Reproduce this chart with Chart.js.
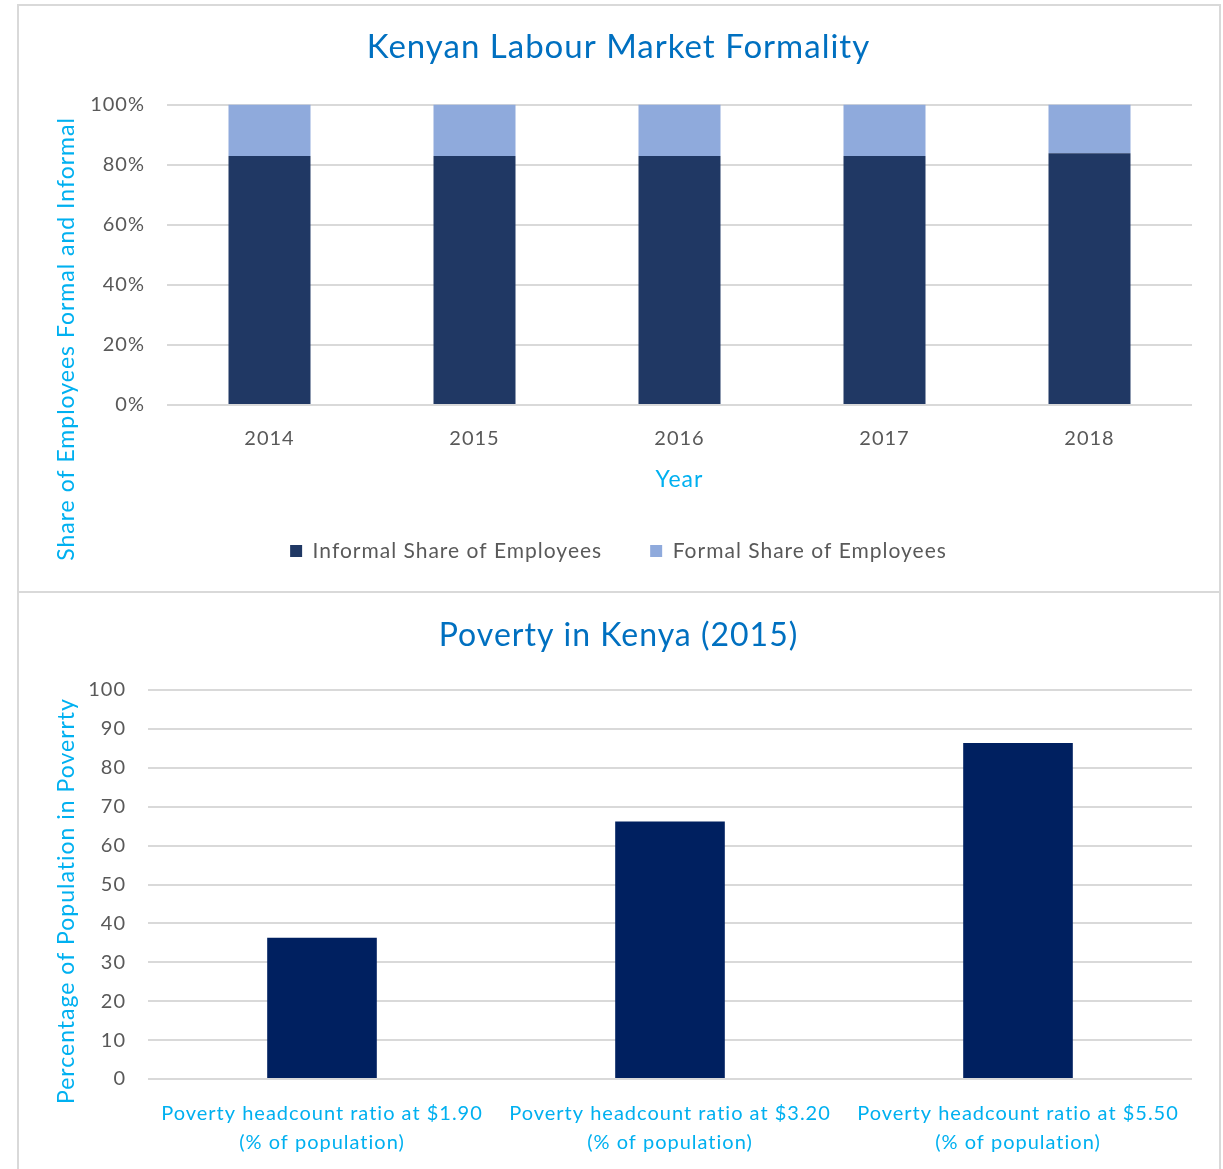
<!DOCTYPE html>
<html>
<head>
<meta charset="utf-8">
<script src="https://cdn.jsdelivr.net/npm/chart.js@4/dist/chart.umd.min.js"></script>
<style>
  html, body { margin: 0; padding: 0; background: #fff; width: 1223px; height: 1169px; overflow: hidden; }
  .panel { position: absolute; left: 17px; width: 1204px; box-sizing: border-box; border: 2px solid #d9d9d9; background: #fff; }
  #panel1 { top: 4px; height: 589px; }
  #panel2 { top: 591px; height: 600px; }
  canvas { position: absolute; left: 17px; }
  #formality { top: 0px; }
  #poverty { top: 594px; }
</style>
</head>
<body>
<div class="panel" id="panel1"></div>
<div class="panel" id="panel2"></div>
<canvas id="formality" width="1203" height="590"></canvas>
<canvas id="poverty" width="1203" height="575"></canvas>
<script>
// Labour market formality (share of employees, %)
const years = ['2014', '2015', '2016', '2017', '2018'];
const informalShare = [82.9, 82.9, 82.9, 82.9, 83.8];
const formalShare = [17.1, 17.1, 17.1, 17.1, 16.2];
const formalityTicks = [0, 20, 40, 60, 80, 100];

// Poverty headcount ratios, Kenya 2015 (% of population)
const povertyLines = [
  ['Poverty headcount ratio at $1.90', '(% of population)'],
  ['Poverty headcount ratio at $3.20', '(% of population)'],
  ['Poverty headcount ratio at $5.50', '(% of population)']
];
const povertyRates = [36.3, 66.2, 86.4];
const povertyTicks = [0, 10, 20, 30, 40, 50, 60, 70, 80, 90, 100];

const FONT = 'Lato, "Open Sans", sans-serif';
const GRID = '#d9d9d9';
const TICK = '#595959';
const TITLE_BLUE = '#0070c0';
const LIGHT_BLUE = '#00b0f0';

Chart.defaults.font.family = FONT;
Chart.defaults.animation = false;

// Slightly open letter spacing for all chart text
const spacing = {
  id: 'spacing',
  beforeUpdate(chart) { chart.ctx.letterSpacing = '1px'; },
  beforeDraw(chart) { chart.ctx.letterSpacing = '1px'; }
};

// Vertical axis title drawn at a fixed spot beside the value labels
const sideTitle = {
  id: 'sideTitle',
  afterDraw(chart, args, opts) {
    const ctx = chart.ctx;
    ctx.save();
    ctx.translate(opts.x, opts.y);
    ctx.rotate(-Math.PI / 2);
    ctx.font = opts.size + 'px ' + FONT;
    ctx.fillStyle = opts.color;
    ctx.textAlign = 'center';
    ctx.textBaseline = 'middle';
    ctx.fillText(opts.text, 0, 0);
    ctx.restore();
  }
};

new Chart(document.getElementById('formality'), {
  type: 'bar',
  data: {
    labels: years,
    datasets: [
      { label: 'Informal Share of Employees', data: informalShare, backgroundColor: '#203864', categoryPercentage: 0.4, barPercentage: 1 },
      { label: 'Formal Share of Employees', data: formalShare, backgroundColor: '#8faadc', categoryPercentage: 0.4, barPercentage: 1 }
    ]
  },
  options: {
    responsive: false,
    layout: { padding: { left: 28, right: 28, top: 0, bottom: 18.5 } },
    plugins: {
      title: {
        display: true,
        text: 'Kenyan Labour Market Formality',
        color: TITLE_BLUE,
        font: { size: 33, weight: 'normal', lineHeight: 1.2 },
        padding: { top: 28, bottom: 37 }
      },
      legend: {
        position: 'bottom',
        labels: { color: TICK, font: { size: 21 }, boxWidth: 12, boxHeight: 12, padding: 48 }
      },
      tooltip: { enabled: false },
      sideTitle: { text: 'Share of Employees Formal and Informal', x: 50, y: 339, size: 23, color: LIGHT_BLUE }
    },
    scales: {
      x: {
        stacked: true,
        afterFit(scale) { scale.height = 87.5; },
        grid: { display: false },
        border: { display: false },
        ticks: { color: TICK, font: { size: 20 }, padding: 14 },
        title: { display: true, text: 'Year', color: LIGHT_BLUE, font: { size: 23 }, padding: { top: 10, bottom: -1.3 } }
      },
      y: {
        stacked: true,
        min: 0,
        max: 100,
        afterFit(scale) { scale.width = 122; },
        afterBuildTicks(scale) { scale.ticks = formalityTicks.map(v => ({ value: v })); },
        grid: { color: GRID, lineWidth: 2, drawTicks: false },
        border: { display: false },
        ticks: { color: TICK, font: { size: 20 }, padding: 22, callback: v => v + '%' }
      }
    }
  },
  plugins: [spacing, sideTitle]
});

new Chart(document.getElementById('poverty'), {
  type: 'bar',
  data: {
    labels: povertyLines,
    datasets: [
      { label: 'Poverty headcount', data: povertyRates, backgroundColor: '#002060', categoryPercentage: 0.315, barPercentage: 1 }
    ]
  },
  options: {
    responsive: false,
    layout: { padding: { left: 28, right: 28, top: 0, bottom: 12 } },
    plugins: {
      title: {
        display: true,
        text: 'Poverty in Kenya (2015)',
        color: TITLE_BLUE,
        font: { size: 32, weight: 'normal', lineHeight: 1.2 },
        padding: { top: 22, bottom: 35.6 }
      },
      legend: { display: false },
      tooltip: { enabled: false },
      sideTitle: { text: 'Percentage of Population in Poverrty', x: 50, y: 307, size: 23, color: LIGHT_BLUE }
    },
    scales: {
      x: {
        afterFit(scale) { scale.height = 78; },
        grid: { display: false },
        border: { display: false },
        ticks: { color: LIGHT_BLUE, font: { size: 20, lineHeight: 1.45 }, padding: 12, maxRotation: 0 }
      },
      y: {
        min: 0,
        max: 100,
        afterFit(scale) { scale.width = 103; },
        afterBuildTicks(scale) { scale.ticks = povertyTicks.map(v => ({ value: v })); },
        grid: { color: GRID, lineWidth: 2, drawTicks: false },
        border: { display: false },
        ticks: { color: TICK, font: { size: 20 }, padding: 22 }
      }
    }
  },
  plugins: [spacing, sideTitle]
});
</script>
</body>
</html>
